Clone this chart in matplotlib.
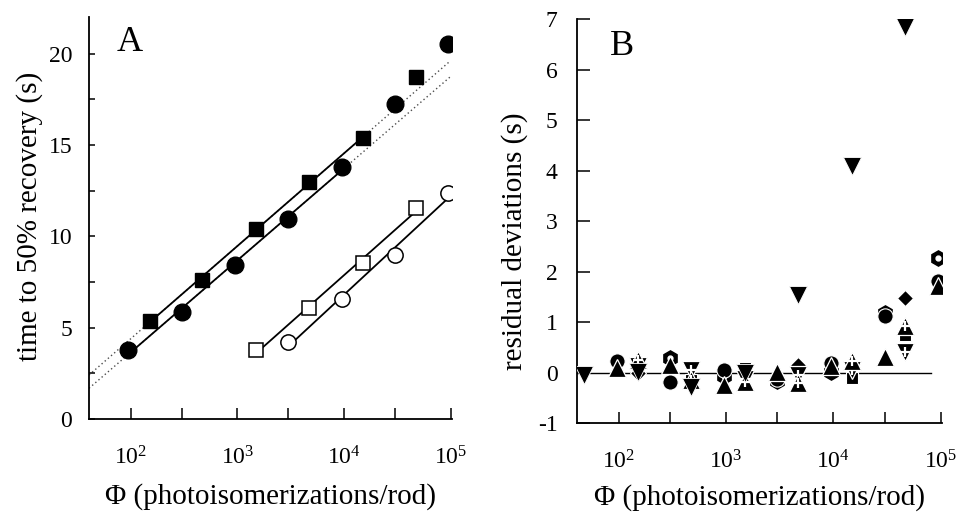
import numpy as np
import matplotlib
matplotlib.use('Agg')
import matplotlib.pyplot as plt

plt.rcParams['font.family'] = ['Liberation Serif', 'DejaVu Serif']
plt.rcParams['mathtext.fontset'] = 'custom'
plt.rcParams['mathtext.rm'] = 'Liberation Serif'
plt.rcParams['axes.unicode_minus'] = False

# Panel A: time to 50% recovery vs flash strength
phi_circ = [95, 300, 950, 3000, 9500, 30000, 95000]
t_circ = [3.77, 5.86, 8.45, 10.97, 13.79, 17.25, 20.53]
phi_sq = [150, 470, 1500, 4700, 15000, 47000]
t_sq = [5.36, 7.63, 10.42, 12.97, 15.37, 18.74]
phi_osq = [1500, 4700, 15000, 47000]
t_osq = [3.77, 6.05, 8.51, 11.57]
phi_ocirc = [3000, 9500, 30000, 95000]
t_ocirc = [4.19, 6.54, 9.0, 12.39]
n_fit = 5  # points used for the filled-symbol fits

# Panel B: residual deviations from the fitted lines
phi_b1 = [95, 300, 950, 3000, 9500, 30000, 95000]
res_hex = [np.nan, 0.28, -0.06, -0.17, 0.02, 1.18, 2.27]
res_circ = [0.22, -0.18, 0.05, -0.12, 0.18, 1.12, 1.82]
res_up = [0.08, 0.15, -0.25, 0.02, 0.12, 0.31, 1.72]
phi_b2 = [47, 150, 470, 1500, 4700, 15000, 47000]
res_sq = [np.nan, np.nan, -0.15, 0.08, np.nan, -0.1, 0.75]
res_dia = [np.nan, 0.0, np.nan, np.nan, 0.15, np.nan, 1.48]
res_dnp = [np.nan, 0.12, 0.05, -0.12, -0.05, 0.05, 0.4]
res_upp = [np.nan, 0.25, -0.15, -0.18, -0.2, 0.22, 0.93]
res_dn = [-0.05, 0.02, -0.28, 0.0, 1.53, 4.08, 6.85]

fig = plt.figure(figsize=(9.58, 5.14), dpi=100)
axA = fig.add_axes([0.0929, 0.1848, 0.3789, 0.7822])
axB = fig.add_axes([0.6023, 0.177, 0.381, 0.786])

tick_labels = [r'$\mathregular{10^{%d}}$' % k for k in (2, 3, 4, 5)]
for ax in (axA, axB):
    ax.set_xscale('log')
    ax.set_xlim(40.6, 1.03e5)
    for s in ('top', 'right'):
        ax.spines[s].set_visible(False)
    for s in ('left', 'bottom'):
        ax.spines[s].set_linewidth(1.3)
    ax.set_xticks([1e2, 1e3, 1e4, 1e5], tick_labels)
    ax.set_xticks([3e2, 3e3, 3e4], minor=True)
    ax.tick_params(axis='x', which='both', direction='in', length=8, width=1.1,
                   pad=20, labelsize=17)
    ax.set_xlabel('Φ (photoisomerizations/rod)', fontsize=21)

# --- panel A ---
def fit_line(x, y):
    return np.polyfit(np.log10(x), y, 1)

xfull = np.array([40.6, 1e5])
for px, ty, nf in ((phi_circ, t_circ, n_fit), (phi_sq, t_sq, n_fit)):
    p = fit_line(px[:nf], ty[:nf])
    axA.plot(xfull, np.polyval(p, np.log10(xfull)), color='0.3',
             lw=1.0, ls=(0, (1, 2)), zorder=1)
    xs = np.array([px[0], px[nf - 1]])
    axA.plot(xs, np.polyval(p, np.log10(xs)), color='k', lw=1.3, zorder=2)
for px, ty in ((phi_osq, t_osq), (phi_ocirc, t_ocirc)):
    p = fit_line(px, ty)
    xs = np.array([px[0], px[-1]])
    axA.plot(xs, np.polyval(p, np.log10(xs)), color='k', lw=1.3, zorder=2)

axA.plot(phi_circ, t_circ, 'o', ms=12, color='k', zorder=3)
axA.plot(phi_sq, t_sq, 's', ms=9.5, color='k', zorder=3)
axA.plot(phi_osq, t_osq, 's', ms=10, mfc='white', mec='k', mew=1.1, zorder=3)
axA.plot(phi_ocirc, t_ocirc, 'o', ms=11, mfc='white', mec='k', mew=1.1, zorder=3)

axA.set_ylim(0, 22)
axA.set_yticks([0, 5, 10, 15, 20])
axA.set_yticks([2.5, 7.5, 12.5, 17.5], minor=True)
axA.tick_params(axis='y', which='both', direction='in', length=4, width=1.1,
                pad=12, labelsize=17)
axA.set_ylabel('time to 50% recovery (s)', fontsize=21)
axA.yaxis.set_label_coords(-0.128, 0.505)
axA.xaxis.set_label_coords(0.5, -0.159)
axA.text(0.075, 0.915, 'A', transform=axA.transAxes, fontsize=26)

# --- panel B ---
axB.plot([40.6, 8.2e4], [0, 0], color='k', lw=1.0, zorder=1)
axB.plot(phi_b1, res_hex, 'h', ms=11, color='k', zorder=2)
axB.plot(phi_b1, res_hex, 'o', ms=3.5, color='white', zorder=2)
axB.plot(phi_b1, res_circ, 'o', ms=11, color='k', mec='white', mew=0.8, zorder=3)
axB.plot(phi_b1, res_up, '^', ms=12.5, color='k', mec='white', mew=0.9, zorder=4)
axB.plot(phi_b2, res_sq, 's', ms=9, color='k', mec='white', mew=0.8, zorder=2)
axB.plot(phi_b2, res_dia, 'D', ms=8.5, color='k', mec='white', mew=0.8, zorder=3)
axB.plot(phi_b2, res_dnp, 'v', ms=12.5, color='k', mec='white', mew=0.9, zorder=4)
axB.plot(phi_b2, res_dnp, '+', ms=6.5, color='white', mew=1.6, zorder=4)
axB.plot(phi_b2, res_upp, '^', ms=12.5, color='k', mec='white', mew=0.9, zorder=5)
axB.plot(phi_b2, res_upp, '+', ms=6.5, color='white', mew=1.6, zorder=5)
axB.plot(phi_b2, res_dn, 'v', ms=13.5, color='k', mec='white', mew=0.6, zorder=6)

axB.set_ylim(-1, 7)
axB.set_yticks(range(-1, 8))
axB.tick_params(axis='y', which='both', direction='in', length=9, width=1.1,
                pad=14, labelsize=17)
axB.set_ylabel('residual deviations (s)', fontsize=21)
axB.yaxis.set_label_coords(-0.134, 0.45)
axB.xaxis.set_label_coords(0.5, -0.151)
axB.text(0.09, 0.91, 'B', transform=axB.transAxes, fontsize=26)

fig.savefig('out.png', dpi=100)
